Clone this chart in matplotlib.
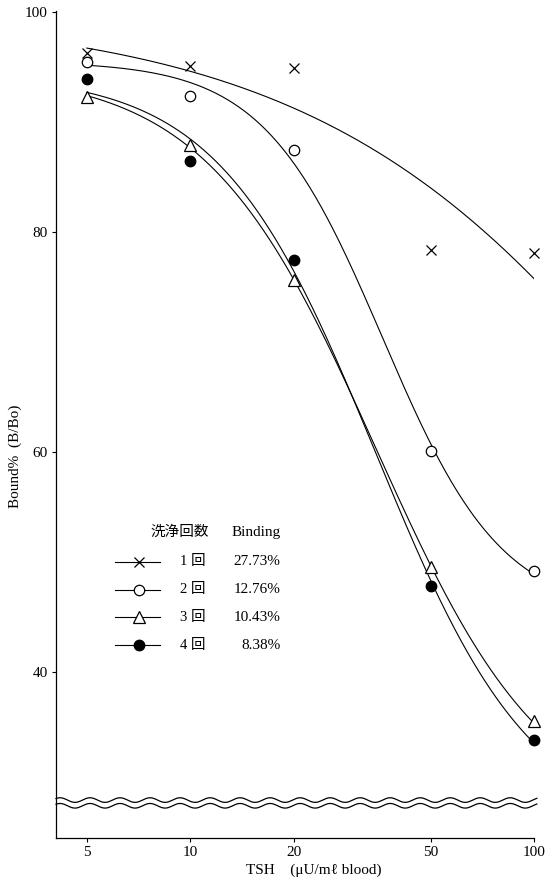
import matplotlib.pyplot as plt
import numpy as np
from matplotlib.ticker import FixedLocator, FixedFormatter, NullLocator
from matplotlib.transforms import blended_transform_factory

plt.rcParams['font.family'] = ['Liberation Serif', 'Noto Sans CJK JP', 'DejaVu Sans']

# TSH standard curves for 1-4 wash cycles
tsh = [5, 10, 20, 50, 100]
wash_1 = [96.3, 95.1, 94.9, 78.4, 78.1]
wash_2 = [95.5, 92.4, 87.5, 60.1, 49.2]
wash_3 = [92.3, 87.9, 75.6, 49.5, 35.5]
wash_4 = [93.9, 86.5, 77.5, 47.8, 33.8]
wash_labels = ['1 回', '2 回', '3 回', '4 回']
binding = ['27.73%', '12.76%', '10.43%', '8.38%']
# lower plateau of the fitted curve: fixed value, or None to fit it
fit_bottom = [0.0, None, None, None]

x_ticks = [5, 10, 20, 50, 100]
y_ticks = [40, 60, 80, 100]

series = [wash_1, wash_2, wash_3, wash_4]
markers = [
    dict(marker='x', markersize=7, markeredgewidth=0.9, color='black'),
    dict(marker='o', markersize=7.5, markerfacecolor='white', markeredgecolor='black', markeredgewidth=0.9),
    dict(marker='^', markersize=8, markerfacecolor='white', markeredgecolor='black', markeredgewidth=0.9),
    dict(marker='o', markersize=7.5, markerfacecolor='black', markeredgecolor='black'),
]


def fit_logistic(u, y, bottom=None):
    """Four-parameter logistic in log-dose.
    Grid over slope/midpoint; plateaus by least squares (bottom may be held fixed)."""
    y = np.asarray(y, float)
    best = None
    for b in np.linspace(0.3, 2.5, 45):
        for c in np.linspace(0.3, 3.5, 161):
            t = 1.0 / (1.0 + 10 ** (b * (u - c)))
            if bottom is None:
                A = np.column_stack([t, 1 - t])
                (top, bot), *_ = np.linalg.lstsq(A, y, rcond=None)
                if bot < 0 or top > 100 or bot > top:
                    continue
            else:
                bot = bottom
                top = min(np.sum(t * (y - bot * (1 - t))) / np.sum(t * t), 100.0)
            err = np.sum((bot + (top - bot) * t - y) ** 2)
            if best is None or err < best[0]:
                best = (err, top, bot, b, c)
    _, top, bot, b, c = best
    return lambda v: bot + (top - bot) / (1.0 + 10 ** (b * (v - c)))


fig = plt.figure(figsize=(5.45, 8.85), dpi=100)
ax = fig.add_axes([0.1028, 0.0531, 0.877, 0.9345])
ax.set_xscale('log')
ax.set_xlim(4.07, 100)
ax.set_ylim(24.9, 100.1)

u = np.log10(tsh)
uu = np.linspace(u[0], u[-1], 300)
for vals, bot, mk in zip(series, fit_bottom, markers):
    curve = fit_logistic(u, vals, bot)
    ax.plot(10 ** uu, curve(uu), color='black', lw=0.8, zorder=2)
    ax.plot(tsh, vals, linestyle='none', zorder=3, clip_on=False, **mk)

# axis break drawn as two wavy lines
tr = blended_transform_factory(ax.transAxes, ax.transData)
xw = np.linspace(0, 1.006, 600)
period, trough, amp = 0.0628, 0.0397, 0.21
wave = np.cos(2 * np.pi * (xw - trough) / period)
for base in (28.35, 27.83):
    ax.plot(xw, base - amp * wave, color='black', lw=0.9, transform=tr, clip_on=False)

ax.xaxis.set_major_locator(FixedLocator(x_ticks))
ax.xaxis.set_major_formatter(FixedFormatter([str(t) for t in x_ticks]))
ax.xaxis.set_minor_locator(NullLocator())
ax.set_yticks(y_ticks)
ax.tick_params(direction='out', length=3, width=0.8, labelsize=11, pad=3)
for side in ('top', 'right'):
    ax.spines[side].set_visible(False)
for side in ('left', 'bottom'):
    ax.spines[side].set_linewidth(0.9)

fig.text(0.575, 0.017, 'TSH    (μU/mℓ blood)', ha='center', va='center', fontsize=11)
fig.text(0.028, 0.484, 'Bound%  (B/Bo)', rotation=90, ha='center', va='center', fontsize=11)

# hand-built key: wash count and binding
ax.text(0.197, 0.370, '洗浄回数', transform=ax.transAxes, fontsize=10.5, va='center', ha='left')
ax.text(0.471, 0.370, 'Binding', transform=ax.transAxes, fontsize=11, va='center', ha='right')
row_y = [0.334, 0.300, 0.267, 0.233]
for y, mk, lab, b in zip(row_y, markers, wash_labels, binding):
    ax.plot([0.123, 0.218], [y, y], color='black', lw=0.8, transform=ax.transAxes)
    ax.plot([0.174], [y], linestyle='none', transform=ax.transAxes, **mk)
    ax.text(0.259, y, lab, transform=ax.transAxes, fontsize=10.5, va='center', ha='left')
    ax.text(0.470, y, b, transform=ax.transAxes, fontsize=11, va='center', ha='right')

fig.savefig('out.png', dpi=100)
